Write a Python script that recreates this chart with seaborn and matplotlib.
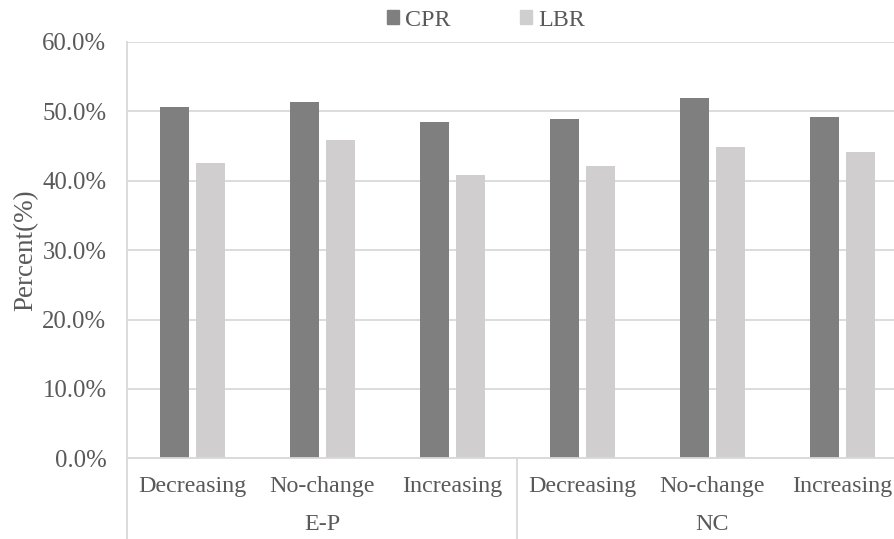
import numpy as np
import pandas as pd
import seaborn as sns
import matplotlib.pyplot as plt
import matplotlib.transforms as mtransforms
from matplotlib.patches import Patch
from matplotlib.ticker import PercentFormatter

# data
groups = ['E-P', 'NC']
categories = ['Decreasing', 'No-change', 'Increasing']
cpr = [50.7, 51.3, 48.5, 48.9, 52.0, 49.2]
lbr = [42.6, 45.9, 40.9, 42.2, 44.8, 44.2]

# colors
dark = '#7f7f7f'
light = '#d0cece'
grid = '#d9d9d9'
txt = '#595959'

sns.set_style('white')
plt.rcParams['font.family'] = ['Liberation Serif', 'DejaVu Serif']
fs = 17.3

# long table
slots = [g + ' ' + c for g in groups for c in categories]
df = pd.DataFrame({
    'slot': slots * 2,
    'value': cpr + lbr,
    'series': ['CPR'] * len(slots) + ['LBR'] * len(slots),
})

fig = plt.figure(figsize=(8.94, 5.39), dpi=100)
ax = fig.add_axes([127.3 / 894, (539 - 458.3) / 539, 780 / 894, (458.3 - 42) / 539])

sns.barplot(data=df, x='slot', y='value', hue='series', order=slots,
            palette=[dark, light], width=0.56, gap=0.2, ax=ax,
            edgecolor='none', legend=False)

ax.set_xlim(-0.5, len(slots) - 0.5)
ax.set_ylim(0, 60)
ax.set_yticks(np.arange(0, 61, 10))
ax.yaxis.set_major_formatter(PercentFormatter(decimals=1))
ax.yaxis.grid(True, color=grid, lw=1.3)
ax.set_axisbelow(True)
ax.tick_params(axis='y', length=0, pad=15, labelsize=17.8, labelcolor=txt)
ax.tick_params(axis='x', length=0, pad=12.5, labelsize=fs, labelcolor=txt)
ax.set_xticks(range(len(slots)))
ax.set_xticklabels(categories * len(groups))
ax.set_xlabel('')
ax.set_ylabel('Percent(%)', fontsize=19.5, color=txt)
ax.yaxis.set_label_coords(-(127 - 38) / 780, 0.5)

for s in ['top', 'right']:
    ax.spines[s].set_visible(False)
ax.spines['left'].set_color(grid)
ax.spines['left'].set_linewidth(1.3)
ax.spines['bottom'].set_color(grid)
ax.spines['bottom'].set_linewidth(1.3)

# second level of the category axis
trans = mtransforms.blended_transform_factory(ax.transData, ax.transAxes)
ybot = -(539 - 458.3) / (458.3 - 42)
for i in range(len(groups) + 1):
    xb = i * len(categories) - 0.5
    ax.plot([xb, xb], [0, ybot], transform=trans, color=grid, lw=1.3, clip_on=False)
for i, g in enumerate(groups):
    xc = i * len(categories) + (len(categories) - 1) / 2
    ax.text(xc, -(524 - 458.3) / (458.3 - 42), g, transform=trans,
            ha='center', va='center', fontsize=fs, color=txt)

handles = [Patch(color=dark, label='CPR'), Patch(color=light, label='LBR')]
fig.legend(handles=handles, loc='center', bbox_to_anchor=(486 / 894, 1 - 20 / 539),
           ncol=2, frameon=False, fontsize=fs, labelcolor=txt,
           handlelength=0.5, handleheight=0.5, handletextpad=0.25, columnspacing=2.9)

fig.savefig('out.png', dpi=100)
